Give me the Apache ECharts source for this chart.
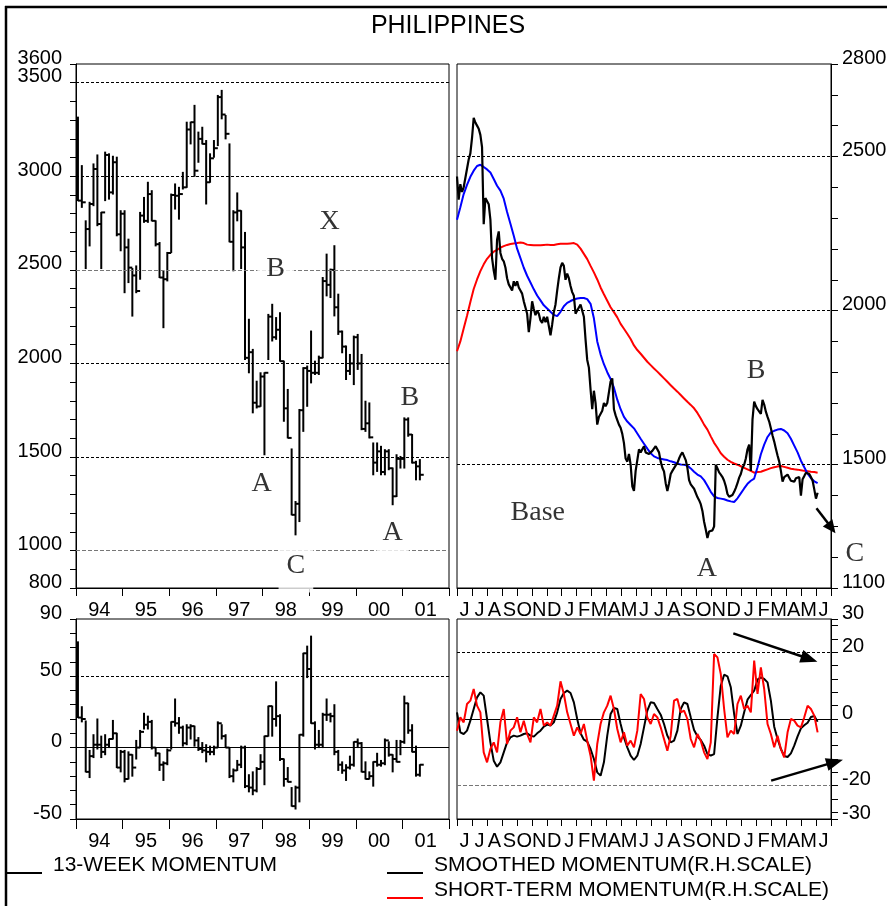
<!DOCTYPE html>
<html><head><meta charset="utf-8">
<script src="https://cdn.jsdelivr.net/npm/echarts@6/dist/echarts.min.js"></script>
<style>html,body{margin:0;padding:0;background:#fff}#c{width:887px;height:906px}</style>
</head><body><div id="c"></div>
<script>
// ---------- DATA ----------
const yearLabels = ['94','95','96','97','98','99','00','01'];
const monthLabels = ['J','J','A','S','O','N','D','J','F','M','A','M','J','J','A','S','O','N','D','J','F','M','A','M','J'];

// Monthly PSE index bars, Jan 1994 .. May 2001
const pxHigh = [3316,3057,2762,2861,3066,3114,2807,3129,3120,3107,3102,2816,2816,2664,2507,2521,2807,2887,2968,2923,2762,2646,2495,2593,2905,2959,2941,3021,3289,3289,3379,3236,3262,3191,3120,3191,3432,3459,3325,3173,2816,2911,2816,2700,2236,2075,1905,1950,1950,2262,2316,2245,2271,2012,1861,1543,1262,1754,1977,1986,2173,2012,2039,2459,2584,2504,2629,2370,2173,2093,2048,2146,2155,2048,1798,1789,1575,1575,1557,1539,1539,1441,1512,1503,1709,1709,1620,1477,1486];
const pxLow = [2870,2834,2507,2628,2843,2736,2507,2870,2878,2905,2682,2602,2378,2432,2253,2378,2450,2754,2754,2762,2628,2459,2191,2441,2593,2825,2771,2932,2941,3173,3000,3075,3173,2852,2968,3102,3164,3307,3200,2650,2495,2762,2507,2021,1950,1736,1762,1771,1512,2021,2120,2129,2012,1691,1602,1191,1084,1155,1637,1771,1896,1941,1941,2030,2361,2352,2254,2155,2057,1914,1941,1887,1968,1646,1637,1602,1405,1423,1405,1405,1432,1245,1289,1441,1441,1611,1468,1378,1378];
const pxClose = [2870,2861,2718,2852,3039,2745,2807,3114,2914,3075,2690,2800,2620,2512,2470,2387,2790,2762,2905,2762,2637,2459,2450,2590,2900,2896,2905,2941,3250,3289,3030,3200,3173,2968,3096,3150,3423,3330,3227,2650,2807,2816,2620,2030,2060,1790,1770,1930,1950,2250,2140,2180,2012,1760,1602,1191,1250,1750,1975,1960,1950,1950,2030,2440,2420,2500,2300,2170,2090,1960,2000,2140,2000,1650,1680,1605,1470,1530,1420,1530,1440,1290,1490,1490,1700,1620,1470,1450,1405];

// 13-week momentum bars (monthly), Jan 1994 .. May 2001
const momHigh = [74,28.6,18.6,-2,9,20,8,9,6,19,10,-2,-2,-3,-5,5,12,24,22,19,0,-4,-10,-1,18,34,21,15,16,16,15,7,3.5,2,1,1,18,16,9,0,-15,-9,1,1,-19,-17,-14,-5,8,29,29,46,23,-8,-14,-28,-27,9,66,71,78,18,12,24,34,24,30,-2,-10,-12,-6,4,6,3.5,-10,-17,-10,-4,-9,6,4,-5,5,5,36,31,16,1,-12];
const momLow = [21,18,-17,-21,-7,-1,-7,-5,0,6,-14,-17,-24,-22,-20,-8,0,13,13,-1,-6,-16,-23,-12,-1,15,10,1,2,6,1,-2,-3.5,-10,-5,-5,0,6,0,-21,-24,-16,-14,-28,-31,-33,-31,-15,-26,8,8,15,-9,-27,-24,-41,-43,-38,8,49,17,-1,0,0,19,18,-5,-16,-18,-23,-15,-13,0,-17,-22,-22,-27,-13,-13,-12,-6,-17,-10,-5,3,10,-3,-20,-20];
const momClose = [21,20,-17,-6,2,2,-3,2,6,10,-14,-3,-22,-5,-14,0,11,16,18,0,-4,-12,-11,-2,18,17,14,3,14,15,5,-1,-2,-3,-3,0,17,8,0,-20,-16,-12,0,-27,-28,-30,-15,-10,8,29,20,22,-8,-22,-24,-41,-28,9,66,55,17,2,2,23,23,22,-3,-12,-16,-14,-12,4,3,-17,-22,-20,-10,-12,-11,5,-5,-8,-10,4,31,12,-3,-19,-12];

// Daily index Jun 1999 .. Jun 2001, sampled every FINE_STEP months
const FINE_STEP = 0.1116;
const indexLine = [2435,2360,2410,2385,2400,2430,2460,2490,2510,2560,
 2625,2610,2600,2590,2570,2530,2280,2365,2370,2345,
 2295,2170,2130,2100,2230,2257,2187,2168,2160,2140,
 2105,2085,2090,2065,2095,2080,2095,2075,2065,2055,
 2030,2010,1990,1930,1975,2030,2005,1985,2000,1990,
 1968,1960,1980,1962,1980,1975,1920,1955,1995,2020,
 2065,2105,2140,2155,2145,2100,2120,2105,2080,2060,
 2048,1990,2000,1995,2020,2015,1980,1906,1840,1815,
 1744,1680,1740,1700,1630,1655,1650,1675,1700,1690,
 1700,1700,1770,1780,1680,1660,1645,1630,1620,1600,
 1570,1520,1510,1535,1500,1430,1415,1480,1474,1550,
 1540,1550,1560,1540,1540,1535,1535,1545,1550,1560,
 1560,1540,1510,1490,1478,1440,1415,1440,1470,1480,
 1480,1498,1505,1520,1532,1540,1540,1515,1490,1450,
 1436,1438,1422,1425,1395,1385,1372,1350,1315,1290,
 1262,1283,1288,1287,1300,1500,1488,1475,1468,1460,
 1448,1430,1405,1396,1395,1402,1412,1425,1440,1458,
 1470,1490,1500,1520,1550,1565,1480,1647,1705,1690,
 1680,1685,1665,1710,1695,1672,1655,1640,1618,1595,
 1575,1552,1530,1510,1480,1445,1460,1455,1468,1458,
 1448,1450,1445,1456,1455,1460,1400,1453,1463,1474,
 1480,1470,1460,1448,1420,1390,1409];

// Moving averages and momentum, sampled every COARSE_STEP months
const COARSE_STEP = 0.2232;
const blueAvg = [2295,2335,2378,2408,2434,2454,2469,2473,2466,2458,
 2448,2427,2405,2389,2363,2320,2282,2243,2201,2170,
 2139,2113,2091,2069,2049,2033,2017,2007,1996,1986,
 1982,1996,2014,2025,2031,2036,2039,2041,2041,2037,
 2022,1975,1900,1858,1826,1800,1778,1750,1711,1680,
 1655,1640,1629,1618,1601,1584,1568,1552,1537,1527,
 1522,1519,1517,1515,1511,1508,1503,1501,1500,1497,
 1488,1477,1468,1462,1450,1432,1412,1397,1392,1390,
 1388,1384,1381,1379,1391,1407,1423,1438,1448,1455,
 1492,1534,1565,1590,1605,1610,1614,1616,1611,1602,
 1584,1562,1540,1513,1492,1471,1456,1446,1440];
const redAvg = [1868,1900,1942,1983,2028,2070,2101,2128,2150,2168,
 2181,2191,2197,2204,2209,2213,2216,2218,2219,2221,
 2219,2214,2213,2212,2212,2212,2213,2214,2213,2213,
 2215,2217,2217,2217,2218,2219,2214,2201,2184,2167,
 2145,2124,2101,2075,2053,2032,2011,1995,1978,1957,
 1941,1925,1908,1887,1872,1860,1847,1834,1823,1812,
 1802,1791,1780,1769,1758,1747,1737,1726,1715,1704,
 1694,1683,1668,1650,1630,1614,1592,1571,1555,1537,
 1526,1516,1509,1504,1500,1495,1490,1485,1480,1474,
 1476,1477,1481,1485,1489,1492,1494,1496,1493,1490,
 1487,1485,1484,1482,1480,1479,1477,1476,1474];
const smoothedMom = [2,-4,-4.5,-3.5,-0.5,3,6.5,8,7,0,
 -7,-12.5,-14.3,-13,-10,-7,-5.5,-5,-5.3,-5,
 -4.5,-4.3,-5,-5.3,-4.3,-3.5,-2.3,-1.7,-2,-1,
 2,6,7.8,8.5,7.8,5,0,-4.3,-6.2,-6.8,
 -9,-12,-16,-17,-13,-5,1.5,3.3,3,-1.5,
 -5.5,-8.5,-11,-12.3,-11,-7.5,-2.5,2.5,5,4.8,
 3,1.3,-1.5,-5,-7,-6.5,-3.5,3,5,4.5,
 0.5,-3.3,-5.2,-6.3,-8,-10.5,-11,-10.5,0.5,10,
 13.3,12.8,9.5,1.5,-4.5,-2,2,5.8,7.2,8.5,
 11.8,12.5,12,11,5.5,-2.3,-6,-9,-11.1,-11.4,
 -10.3,-8,-5.2,-2.8,-1.9,-1.1,0.6,0.9,-0.8];
const shortMom = [-3.5,0.5,-1,4.5,5.5,9,4,2,-10,-13,
 -9,-7,-10,-1,3,-7.5,-3.5,-2.5,0.5,-4,
 -0.5,-4.5,-7,0.5,-1,3,-2,-1,-2,1,
 4,11.3,7.5,2,-1.5,-5,-2.5,-4.5,-1.5,-6.5,
 -11,-18.5,-7.5,-1.5,2,4,7,3,-3,-7,
 -4,-8,-6.5,-8.5,-3.5,7.5,6,0.5,-1.5,1.5,
 0.5,-2.5,-6,-9.5,-5,5.5,6,2,2.5,0,
 -6,-8.5,-4.5,-6.5,-10,-12,-7,19.5,18.5,13.5,
 3,-5.5,-3.5,-4.5,4.5,7,3,4,2,17.5,
 7.5,15.5,9,-1.5,-4.5,-8.5,-5,-9,-11.5,-4,
 0,-0.5,-2,-2.5,0.5,4,3,1,-4];

// Axis tick labels
const leftPriceLabels = [800,1000,1500,2000,2500,3000,3600];
const leftPriceExtraLabels = [3500];
const rightPriceLabels = [1100,1500,2000,2500,2800];
const leftMomLabels = [-50,0,50,90];
const rightMomLabels = [-30,-20,0,20,30];
const rightMomTicks = [-30,-28,-24,-20,-16,-12,-8,-4,0,4,8,12,16,20,24,28,30];

// Annotations (data coordinates)
const annLeft = [
  {t:'B', x:51.4, y:2509, pad:[2,9,2,9]},
  {t:'X', x:65.3, y:2755, pad:[2,6,2,6]},
  {t:'A', x:47.8, y:1357, pad:[2,6,2,6]},
  {t:'C', x:56.6, y:918,  pad:[12,8,13,8]},
  {t:'A', x:81.5, y:1095, pad:[2,6,9,6]},
  {t:'B', x:85.9, y:1818, pad:[2,6,2,6]}
];
const annRight = [
  {t:'Base', x:5.4, y:1343},
  {t:'B', x:20.0, y:1806},
  {t:'A', x:16.7, y:1162},
  {t:'C', x:26.6, y:1213}
];
// Trend arrows: [from, to] in data coordinates
const arrowTop = [[24.03, 1359], [25.3, 1278]];
const arrowsBottom = [
  [[18.47, 25.7], [24.09, 17.2]],
  [[21.0, -18.5], [25.8, -12.2]]
];

// ---------- CHART ----------
const SANS = 'Liberation Sans, Arial, sans-serif';
const SERIF = 'Liberation Serif, Times New Roman, serif';
const chart = echarts.init(document.getElementById('c'), null, {renderer:'canvas'});

const grids = [
  {left:76, top:64, width:373, height:524},
  {left:457, top:64, width:374, height:524},
  {left:76, top:619, width:373, height:200},
  {left:457, top:619, width:374, height:200}
].map(g => Object.assign({show:true, borderColor:'#000', borderWidth:1, containLabel:false, outerBoundsMode:'none'}, g));

function catAxis(gridIndex, data, tickLen) {
  return {type:'category', gridIndex, data, position:'bottom', boundaryGap:true,
    axisLine:{show:true, onZero:false, lineStyle:{color:'#000', width:1}},
    axisTick:{show:true, inside:false, length:tickLen, interval:0, lineStyle:{color:'#000'}},
    axisLabel:{show:true, interval:0, margin:12, color:'#000', fontSize:20, fontFamily:SANS, hideOverlap:false},
    splitLine:{show:false}};
}
function hidX(gridIndex, max) {
  return {type:'value', gridIndex, min:0, max, show:false, axisLine:{onZero:false}};
}
function valAxis(gridIndex, position, min, max, labels, tickOpt, margin) {
  return {type:'value', gridIndex, position, min, max, interval:tickOpt.interval,
    axisLine:{show:tickOpt.line !== false, onZero:false, lineStyle:{color:'#000'}},
    axisTick:Object.assign({show:tickOpt.len > 0, inside:false, length:tickOpt.len, lineStyle:{color:'#000'}},
      tickOpt.custom ? {customValues:tickOpt.custom} : {}),
    axisLabel:{show:true, customValues:labels, margin, color:'#000', fontSize:20, fontFamily:SANS,
      formatter: v => String(v), verticalAlign:'bottom', lineHeight:12,
      hideOverlap:false, showMinLabel:true, showMaxLabel:true},
    splitLine:{show:false}};
}
function hl(v, color, dash) { return {yAxis:v, lineStyle:{color, type:dash, width:1}}; }
function helper(xi, yi, lines) {
  return {type:'line', xAxisIndex:xi, yAxisIndex:yi, data:[], silent:true, z:1,
    markLine:{silent:true, symbol:'none', label:{show:false}, animation:false, data:lines}};
}
function hlcSeries(xi, yi, hi, lo, cl) {
  return {type:'custom', xAxisIndex:xi, yAxisIndex:yi, silent:true, z:3,
    encode:{x:0, y:[1,2,3]},
    data: hi.map((h, i) => [i + 0.5, h, lo[i], cl[i]]),
    renderItem: function (params, api) {
      const x = api.value(0);
      const top = api.coord([x, api.value(1)]);
      const bot = api.coord([x, api.value(2)]);
      const c = api.coord([x, api.value(3)]);
      const w = api.size([1, 0])[0];
      return {type:'group', children:[
        {type:'line', shape:{x1:top[0], y1:top[1]-0.5, x2:bot[0], y2:bot[1]+0.5}, style:{stroke:'#000', lineWidth:2}},
        {type:'line', shape:{x1:c[0], y1:c[1], x2:c[0]+w, y2:c[1]}, style:{stroke:'#000', lineWidth:2}}
      ]};
    }};
}
function lineSeries(xi, yi, vals, step, color, width, z) {
  return {type:'line', xAxisIndex:xi, yAxisIndex:yi, data: vals.map((v, k) => [k * step, v]),
    showSymbol:false, symbol:'none', silent:true, z, clip:false,
    lineStyle:{color, width}};
}
function annSeries(xi, yi, list, bg) {
  return {type:'scatter', xAxisIndex:xi, yAxisIndex:yi, symbolSize:0, silent:true, z:10, clip:false,
    data: list.map(a => ({name:a.t, value:[a.x, a.y], label: {padding: a.pad || [2,4,2,4]}})),
    label:{show:true, position:'inside', formatter:'{b}', fontFamily:SERIF, fontSize:28, color:'#000',
      backgroundColor: bg ? '#fff' : 'transparent'}};
}
const dashK = [3,2], dashG = [4,2];

const baseGraphic = [
  {type:'line', shape:{x1:5, y1:7, x2:887, y2:7}, style:{stroke:'#000', lineWidth:2.5}, silent:true},
  {type:'line', shape:{x1:6, y1:6, x2:6, y2:906}, style:{stroke:'#000', lineWidth:2.5}, silent:true},
  {type:'text', x:448, y:26, silent:true, style:{text:'PHILIPPINES', fontSize:25, fontFamily:SANS, fill:'#000', align:'center', verticalAlign:'middle'}},
  {type:'line', shape:{x1:7, y1:873, x2:42, y2:873}, style:{stroke:'#000', lineWidth:2}, silent:true},
  {type:'text', x:53, y:865, silent:true, style:{text:'13-WEEK MOMENTUM', fontSize:21, fontFamily:SANS, fill:'#000', align:'left', verticalAlign:'middle'}},
  {type:'line', shape:{x1:387, y1:873, x2:423, y2:873}, style:{stroke:'#000', lineWidth:2}, silent:true},
  {type:'text', x:434, y:865, silent:true, style:{text:'SMOOTHED MOMENTUM(R.H.SCALE)', fontSize:21, fontFamily:SANS, fill:'#000', align:'left', verticalAlign:'middle'}},
  {type:'line', shape:{x1:387, y1:898, x2:423, y2:898}, style:{stroke:'#ff0000', lineWidth:2}, silent:true},
  {type:'text', x:434, y:890, silent:true, style:{text:'SHORT-TERM MOMENTUM(R.H.SCALE)', fontSize:21, fontFamily:SANS, fill:'#000', align:'left', verticalAlign:'middle'}}
];

const option = {
  animation:false,
  grid: grids,
  xAxis: [
    catAxis(0, yearLabels, 8), hidX(0, 96),
    catAxis(1, monthLabels, 8), hidX(1, 25),
    catAxis(2, yearLabels, 10), hidX(2, 96),
    catAxis(3, monthLabels, 7), hidX(3, 25)
  ],
  yAxis: [
    valAxis(0, 'left', 800, 3600, leftPriceLabels, {interval:100, len:6}, 14),
    valAxis(1, 'right', 1100, 2800, rightPriceLabels, {interval:100, len:7}, 11),
    valAxis(2, 'left', -50, 90, leftMomLabels, {interval:10, len:6}, 14),
    valAxis(3, 'right', -30, 30, rightMomLabels, {interval:5, len:7, custom:rightMomTicks}, 11),
    valAxis(0, 'left', 800, 3600, leftPriceExtraLabels, {interval:100, len:0, line:false}, 14)
  ],
  series: [
    helper(1, 0, [hl(3500,'#000',dashK), hl(3000,'#000',dashK), hl(2500,'#777',dashG), hl(2000,'#000',dashK), hl(1500,'#000',dashK), hl(1000,'#777',dashG)]),
    hlcSeries(1, 0, pxHigh, pxLow, pxClose),
    annSeries(1, 0, annLeft, true),

    helper(3, 1, [hl(2500,'#000',dashK), hl(2000,'#000',dashK), hl(1500,'#000',dashK)]),
    lineSeries(3, 1, redAvg, COARSE_STEP, '#ff0000', 2, 3),
    lineSeries(3, 1, blueAvg, COARSE_STEP, '#0000ff', 2, 4),
    lineSeries(3, 1, indexLine, FINE_STEP, '#000', 2.2, 5),
    annSeries(3, 1, annRight, false),

    helper(5, 2, [hl(50,'#000',dashK), hl(0,'#000','solid')]),
    hlcSeries(5, 2, momHigh, momLow, momClose),

    helper(7, 3, [hl(20,'#000',dashK), hl(-20,'#777',dashG), hl(0,'#000','solid')]),
    lineSeries(7, 3, smoothedMom, COARSE_STEP, '#000', 2, 4),
    lineSeries(7, 3, shortMom, COARSE_STEP, '#ff0000', 2, 5)
  ],
  graphic: baseGraphic
};
chart.setOption(option);

// Arrows placed through the series' coordinate systems
function arrow(seriesIndex, from, to, head, halfW) {
  const a = chart.convertToPixel({seriesIndex}, from);
  const b = chart.convertToPixel({seriesIndex}, to);
  const dx = b[0] - a[0], dy = b[1] - a[1], len = Math.hypot(dx, dy);
  const ux = dx / len, uy = dy / len;
  const bx = b[0] - ux * head, by = b[1] - uy * head;
  return [
    {type:'line', silent:true, shape:{x1:a[0], y1:a[1], x2:bx + ux, y2:by + uy}, style:{stroke:'#000', lineWidth:2.5}},
    {type:'polygon', silent:true, shape:{points:[[b[0], b[1]], [bx - uy * halfW, by + ux * halfW], [bx + uy * halfW, by - ux * halfW]]}, style:{fill:'#000'}}
  ];
}
const arrowGraphics = [].concat(
  arrow(6, arrowTop[0], arrowTop[1], 13, 6),
  arrow(11, arrowsBottom[0][0], arrowsBottom[0][1], 17, 6.5),
  arrow(11, arrowsBottom[1][0], arrowsBottom[1][1], 17, 6.5)
);
chart.setOption({graphic: baseGraphic.concat(arrowGraphics)});
</script>
</body></html>
